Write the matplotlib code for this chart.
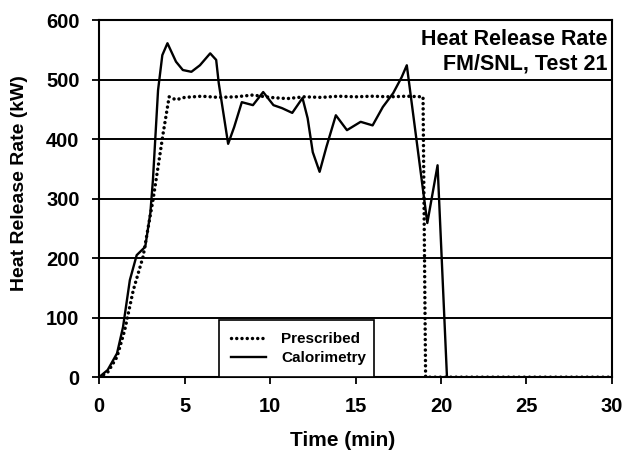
import numpy as np
import matplotlib
matplotlib.use('Agg')
import matplotlib.pyplot as plt

plt.rcParams['font.family'] = ['Liberation Sans', 'DejaVu Sans']
plt.rcParams['font.weight'] = 'bold'

# Donnees
t_presc = [0, 0.5, 1.05, 1.5, 2.0, 2.57, 3.15, 3.45, 3.75, 4.1, 4.5, 5.0, 6.0, 7.0, 8.0,
           9.0, 10.0, 11.0, 12.0, 13.0, 14.0, 15.0, 16.0, 17.0, 18.0, 18.95, 19.1, 30.0]
q_presc = [0, 8, 34, 79, 146, 202, 297, 353, 410, 471, 466, 470, 472, 470, 471,
           474, 470, 468, 471, 470, 472, 471, 472, 471, 472, 471, 0, 0]

t_calo = [0, 0.5, 1.05, 1.4, 1.8, 2.2, 2.7, 3.0, 3.15, 3.45, 3.7, 4.0, 4.5, 4.9, 5.4,
          5.9, 6.5, 6.85, 7.0, 7.55, 7.9, 8.35, 9.0, 9.6, 10.2, 10.7, 11.3, 11.9, 12.2,
          12.5, 12.9, 13.3, 13.85, 14.5, 15.3, 16.0, 16.6, 17.2, 17.7, 18.0, 19.2,
          19.8, 20.35]
q_calo = [0, 12, 40, 84, 163, 205, 219, 276, 331, 482, 541, 561, 530, 516, 513,
          524, 544, 533, 494, 392, 420, 462, 457, 479, 457, 452, 444, 469, 435,
          378, 345, 387, 440, 415, 429, 423, 454, 477, 504, 524, 259,
          356, 0]

fig = plt.figure(figsize=(6.27, 4.55), dpi=100)
ax = fig.add_axes([0.158, 0.171, 0.818, 0.785])

ax.plot(t_presc, q_presc, color='black', linestyle=(0, (0.01, 1.5)), linewidth=2.5,
        dash_capstyle='round', label='Prescribed')
ax.plot(t_calo, q_calo, color='black', linewidth=1.7, label='Calorimetry')

ax.set_xlim(0, 30)
ax.set_ylim(0, 600)
ax.set_xticks(np.arange(0, 31, 5))
ax.set_yticks(np.arange(0, 601, 100))
ax.yaxis.grid(True, color='black', linewidth=1.4)
ax.set_axisbelow(True)
for s in ax.spines.values():
    s.set_linewidth(1.5)
ax.tick_params(direction='out', length=5, width=1.3, labelsize=14.5)
ax.tick_params(axis='x', pad=9)
ax.tick_params(axis='y', pad=9)

ax.set_xlabel('Time (min)', fontsize=15, fontweight='bold', labelpad=8)
ax.xaxis.set_label_coords(0.474, -0.15)
ax.set_ylabel('Heat Release Rate (kW)', fontsize=14, fontweight='bold')
ax.yaxis.set_label_coords(-0.138, 0.543)

ax.text(0.992, 0.975, 'Heat Release Rate\nFM/SNL, Test 21', transform=ax.transAxes,
        ha='right', va='top', fontsize=15.5, fontweight='bold')

leg = ax.legend(loc='lower left', bbox_to_anchor=(7.0, 0, 9.1, 102),
                bbox_transform=ax.transData, mode='expand', borderaxespad=0,
                fancybox=False, edgecolor='black', framealpha=1, borderpad=0.8,
                handlelength=2.3, handletextpad=1.0, labelspacing=0.3,
                prop={'size': 11, 'weight': 'bold'})
leg.get_frame().set_linewidth(1.2)

fig.savefig('out.png', dpi=100)
